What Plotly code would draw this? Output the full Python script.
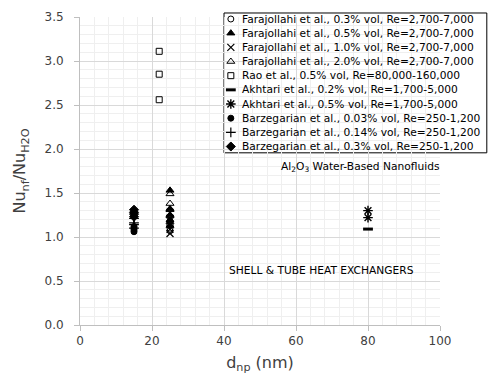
import plotly.graph_objects as go

# Nanoparticle diameter (nm) for each study
dnp_farajollahi = 25
dnp_rao = 22
dnp_akhtari = 80
dnp_barzegarian = 15

# Nusselt number ratio Nu_nf / Nu_H2O
nu_far_03 = [1.07, 1.10, 1.14, 1.18, 1.22]
nu_far_05 = [1.13, 1.19, 1.25, 1.32, 1.53]
nu_far_10 = [1.04, 1.09, 1.15, 1.21, 1.28]
nu_far_20 = [1.17, 1.24, 1.31, 1.38, 1.49]
nu_rao_05 = [2.56, 2.85, 3.11]
nu_akh_02 = [1.09]
nu_akh_05 = [1.22, 1.30]
nu_bar_003 = [1.06, 1.08, 1.10, 1.12]
nu_bar_014 = [1.10, 1.14, 1.16, 1.21]
nu_bar_03 = [1.23, 1.26, 1.28, 1.31]

series_names = [
    "Farajollahi et al., 0.3% vol, Re=2,700-7,000",
    "Farajollahi et al., 0.5% vol, Re=2,700-7,000",
    "Farajollahi et al., 1.0% vol, Re=2,700-7,000",
    "Farajollahi et al., 2.0% vol, Re=2,700-7,000",
    "Rao et al., 0.5% vol, Re=80,000-160,000",
    "Akhtari et al., 0.2% vol, Re=1,700-5,000",
    "Akhtari et al., 0.5% vol, Re=1,700-5,000",
    "Barzegarian et al., 0.03% vol, Re=250-1,200",
    "Barzegarian et al., 0.14% vol, Re=250-1,200",
    "Barzegarian et al., 0.3% vol, Re=250-1,200",
]

series_x = [dnp_farajollahi] * 4 + [dnp_rao] + [dnp_akhtari] * 2 + [dnp_barzegarian] * 3
series_y = [nu_far_03, nu_far_05, nu_far_10, nu_far_20, nu_rao_05,
            nu_akh_02, nu_akh_05, nu_bar_003, nu_bar_014, nu_bar_03]

# marker style per series: (symbol, size, line width)
styles = [
    ("circle-open", 6, 1),
    ("triangle-up", 7, 1),
    ("x-thin-open", 7, 1.2),
    ("triangle-up-open", 7, 1),
    ("square-open", 6, 1),
    ("line-ew-open", 7, 3),
    ("asterisk-open", 8, 1.4),
    ("circle", 6, 1),
    ("cross-thin-open", 7, 1.2),
    ("diamond", 7, 1),
]

FONT = "DejaVu Sans"
fig = go.Figure()

for xv, yv, (sym, sz, lw) in zip(series_x, series_y, styles):
    fig.add_trace(go.Scatter(
        x=[xv] * len(yv), y=yv, mode="markers", showlegend=False,
        hoverinfo="x+y",
        marker=dict(symbol=sym, size=sz, color="black",
                    line=dict(color="black", width=lw)),
    ))

# Legend box drawn in paper coordinates
leg_x0, leg_x1 = 0.40, 1.13
leg_y0, leg_y1 = 0.559, 1.013
row_top, row_step = 0.9935, 0.046
mark_x, text_x = 0.419, 0.444
rows = [row_top - i * row_step for i in range(len(series_names))]

fig.add_shape(type="rect", xref="paper", yref="paper",
              x0=leg_x0, x1=leg_x1, y0=leg_y0, y1=leg_y1,
              line=dict(color="black", width=1), fillcolor="white", layer="between")

for (sym, sz, lw), ry, name in zip(styles, rows, series_names):
    fig.add_trace(go.Scatter(
        x=[mark_x], y=[ry], xaxis="x2", yaxis="y2", mode="markers",
        showlegend=False, hoverinfo="skip", cliponaxis=False,
        marker=dict(symbol=sym, size=sz, color="black",
                    line=dict(color="black", width=lw)),
    ))
    fig.add_annotation(x=text_x, y=ry, xref="paper", yref="paper", text=name,
                       showarrow=False, xanchor="left", yanchor="middle",
                       font=dict(family=FONT, size=10.67, color="black"))

fig.add_annotation(x=0.778, y=0.5135, xref="paper", yref="paper",
                   text="Al<sub>2</sub>O<sub>3</sub> Water-Based Nanofluids",
                   showarrow=False, xanchor="center", yanchor="middle",
                   font=dict(family=FONT, size=10.67, color="black"))
fig.add_annotation(x=0.672, y=0.1755, xref="paper", yref="paper",
                   text="SHELL &amp; TUBE HEAT EXCHANGERS",
                   showarrow=False, xanchor="center", yanchor="middle",
                   font=dict(family=FONT, size=10.67, color="black"))

grid_major = "#d9d9d9"
grid_minor = "#efefef"

fig.update_layout(
    width=489, height=379,
    margin=dict(l=80, r=49, t=17, b=54),
    paper_bgcolor="white", plot_bgcolor="white",
    font=dict(family=FONT, color="#404040"),
    xaxis=dict(
        range=[0, 100], dtick=20, tick0=0, showgrid=True, gridcolor=grid_major,
        showline=True, linecolor="#bfbfbf", ticks="outside", ticklen=5,
        tickcolor="#bfbfbf", zeroline=False, automargin=False,
        tickfont=dict(size=12, color="#404040"),
        minor=dict(dtick=4, showgrid=True, gridcolor=grid_minor, ticks=""),
        title=dict(text="d<sub>np</sub> (nm)", font=dict(size=16, color="#404040"), standoff=9),
    ),
    yaxis=dict(
        range=[0, 3.5], dtick=0.5, tick0=0, tickformat=".1f", showgrid=True,
        gridcolor=grid_major, showline=True, linecolor="#bfbfbf",
        ticks="outside", ticklen=5, tickcolor="#bfbfbf", zeroline=False,
        ticklabelstandoff=8, automargin=False,
        tickfont=dict(size=12, color="#404040"),
        minor=dict(dtick=0.1, showgrid=True, gridcolor=grid_minor, ticks=""),
        title=dict(text="Nu<sub>nf</sub>/Nu<sub>H2O</sub>", font=dict(size=16, color="#404040"), standoff=14),
    ),
    xaxis2=dict(overlaying="x", range=[0, 1], visible=False, anchor="y2"),
    yaxis2=dict(overlaying="y", range=[0, 1], visible=False, anchor="x2"),
)

fig.write_html("out.html")
